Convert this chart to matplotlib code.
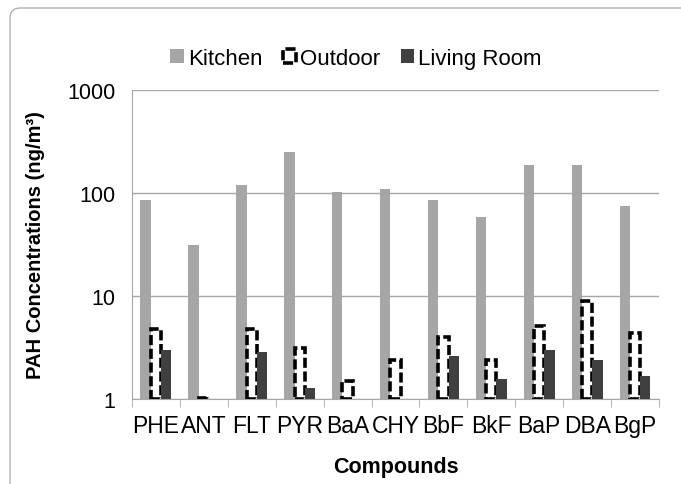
import numpy as np
import matplotlib
matplotlib.use('Agg')
import matplotlib.pyplot as plt
from matplotlib.patches import Patch, FancyBboxPatch

plt.rcParams['font.family'] = ['Liberation Sans', 'DejaVu Sans']

compounds = ['PHE', 'ANT', 'FLT', 'PYR', 'BaA', 'CHY', 'BbF', 'BkF', 'BaP', 'DBA', 'BgP']
kitchen = [86, 31.5, 120, 251, 103, 109, 86, 59, 185, 185, 74]
outdoor = [4.8, 1.02, 4.8, 3.1, 1.5, 2.4, 4.0, 2.4, 5.1, 8.9, 4.4]
living = [3.0, 1.01, 2.85, 1.28, 1.01, 1.01, 2.6, 1.55, 3.0, 2.4, 1.68]

k_color = '#a6a6a6'
l_color = '#404040'
grid_color = '#a6a6a6'
dash = (0, (2.8, 1.0))

fig = plt.figure(figsize=(6.81, 4.85), dpi=100)
ax = fig.add_axes([0.1938, 0.1753, 0.7739, 0.6371])

x = np.arange(len(compounds))
w = 0.215
ax.bar(x - w, np.array(kitchen) - 1, w, bottom=1, color=k_color, zorder=2)
ax.bar(x, np.array(outdoor) - 1, w, bottom=1, facecolor='white', edgecolor='black',
       linewidth=2.6, linestyle=dash, zorder=3)
ax.bar(x + w, np.array(living) - 1, w, bottom=1, color=l_color, zorder=4)

ax.set_yscale('log')
ax.set_ylim(1, 1000)
ax.set_xlim(-0.5, len(compounds) - 0.5)
ax.set_yticks([1, 10, 100, 1000])
ax.set_yticklabels(['1', '10', '100', '1000'])
ax.minorticks_off()
ax.yaxis.grid(True, color=grid_color, linewidth=1, zorder=0)
ax.set_axisbelow(True)

ax.set_xticks(x)
ax.set_xticklabels(compounds)
ax.set_xticks(np.arange(-0.5, len(compounds)), minor=True)
ax.tick_params(axis='x', which='major', length=0, pad=11, labelsize=16.5)
ax.tick_params(axis='x', which='minor', length=6, color=grid_color, direction='out')
ax.tick_params(axis='y', length=0, pad=12, labelsize=15.5)

for s in ['top', 'right']:
    ax.spines[s].set_visible(False)
ax.spines['left'].set_color(grid_color)
ax.spines['bottom'].set_color(grid_color)

ax.set_ylabel('PAH Concentrations (ng/m³)', fontsize=14.5, fontweight='bold')
ax.yaxis.set_label_coords(-0.165, 0.5)
ax.set_xlabel('Compounds', fontsize=15.5, fontweight='bold')
ax.xaxis.set_label_coords(0.5, -0.22)
ax.xaxis.label.set_va('center')

handles = [Patch(facecolor=k_color),
           Patch(facecolor='white', edgecolor='black', linewidth=2.6, linestyle=dash),
           Patch(facecolor=l_color)]
fig.legend(handles, ['Kitchen', 'Outdoor', 'Living Room'], loc='center',
           bbox_to_anchor=(0.523, 0.878), ncol=3, frameon=False, fontsize=16,
           handlelength=0.6, handleheight=0.6, handletextpad=0.2, columnspacing=0.9)

frame = FancyBboxPatch((10, -30), 720, 506, boxstyle='round,pad=0,rounding_size=10',
                       transform=None, facecolor='none', edgecolor='#b0b0b0', linewidth=1)
fig.add_artist(frame)

plt.savefig('out.png', dpi=100)
